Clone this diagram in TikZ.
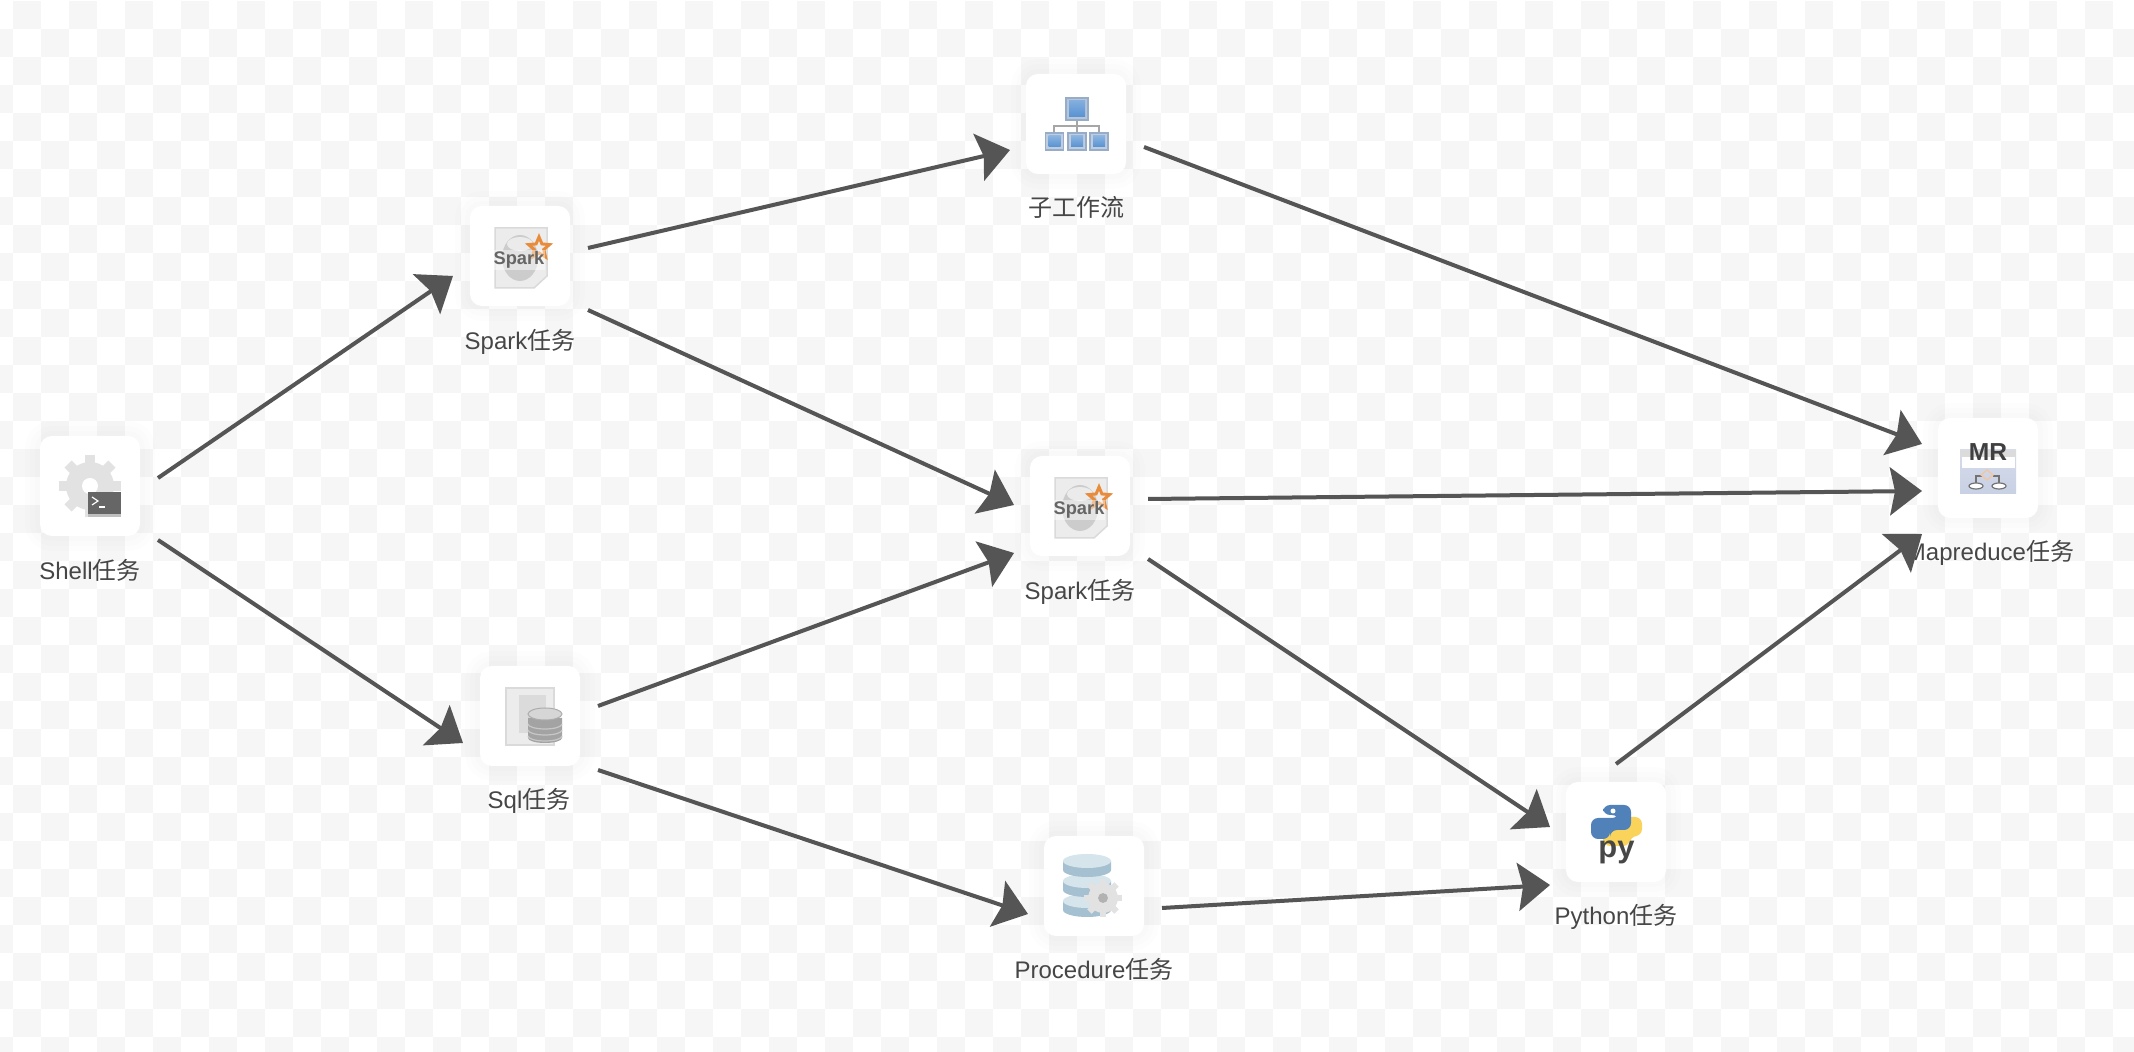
\documentclass[tikz,border=0pt]{standalone}
\usepackage{fontspec}
\setmainfont{Liberation Sans}
\newfontfamily\cjk{Noto Sans CJK SC}
\usepackage{tikz}
\usetikzlibrary{arrows.meta,shapes.geometric}
\definecolor{bgcell}{RGB}{246,246,246}
\definecolor{flowgray}{RGB}{85,85,85}
\definecolor{labelgray}{RGB}{70,70,70}
\definecolor{geargray}{RGB}{226,226,226}
\definecolor{pagegray}{RGB}{236,236,236}
\definecolor{pageedge}{RGB}{218,218,218}
\definecolor{sparkorange}{RGB}{232,140,60}
\definecolor{orgblue}{RGB}{88,146,210}
\definecolor{orgedge}{RGB}{150,172,200}
\definecolor{dbblue}{RGB}{165,192,208}
\definecolor{dbtop}{RGB}{214,228,236}
\definecolor{pyblue}{RGB}{80,130,185}
\definecolor{pyyellow}{RGB}{250,212,90}
\definecolor{mrpanel}{RGB}{200,208,228}
\newcommand{\zh}[1]{{\cjk #1}}
\tikzset{
  taskbox/.style={rounded corners=0.12cm,minimum size=1cm,inner sep=0pt,outer sep=0.18cm,fill=white,
    preaction={draw=black,draw opacity=0.008,line width=0.30cm},
    preaction={draw=black,draw opacity=0.008,line width=0.20cm},
    preaction={draw=black,draw opacity=0.008,line width=0.10cm}},
  tasklabel/.style={font=\fontsize{6.83}{8}\selectfont,text=labelgray,inner sep=0pt},
  flow/.style={-{Stealth[length=0.32cm,width=0.48cm,inset=0.05cm]},line width=0.04cm,draw=flowgray},
  pics/gearicon/.style={code={
    \fill[geargray] (0,0) circle (0.24);
    \foreach \a in {0,45,...,315} \fill[geargray,rotate=\a] (-0.05,0.2) rectangle (0.05,0.31);
    \fill[white] (0,0) circle (0.08);
  }},
  pics/shellicon/.style={code={
    \pic at (0,0) {gearicon};
    \fill[black!60] (-0.02,-0.06) rectangle (0.31,-0.31);
    \fill[black!25] (-0.02,-0.28) rectangle (0.31,-0.31);
    \draw[white,line width=0.012cm] (0.02,-0.11) -- (0.08,-0.15) -- (0.02,-0.19);
    \draw[white,line width=0.012cm] (0.09,-0.21) -- (0.15,-0.21);
  }},
  pics/sparkicon/.style={code={
    \fill[pagegray,draw=pageedge,line width=0.015cm] (-0.25,0.28) -- (0.27,0.28) -- (0.27,-0.20) -- (0.14,-0.32) -- (-0.25,-0.32) -- cycle;
    \fill[black!20] (0,-0.02) ellipse (0.18 and 0.23);
    \fill[black!8] (0,0.12) ellipse (0.13 and 0.07);
    \node[star,star points=5,star point ratio=2.2,draw=sparkorange,line width=0.03cm,inner sep=0pt,minimum size=0.22cm] (-star) at (0.19,0.08) {};
    \node[font=\fontsize{5.2}{6}\selectfont\bfseries,text=black!60,fill=white,fill opacity=0.45,text opacity=1,inner sep=0.3pt] (-word) at (-0.01,-0.04) {Spark};
  }},
  pics/flowicon/.style={code={
    \draw[black!35,line width=0.015cm] (0.01,0.04) -- (0.01,-0.09);
    \draw[black!35,line width=0.015cm] (-0.22,-0.09) -- (-0.22,-0.02) -- (0.23,-0.02) -- (0.23,-0.09);
    \fill[orgedge!70,draw=orgedge,line width=0.012cm] (-0.10,0.26) rectangle (0.12,0.04);
    \shade[top color=orgblue!75,middle color=orgblue!30,bottom color=orgblue] (-0.07,0.23) rectangle (0.09,0.07);
    \foreach \c in {-0.215,0.01,0.23} {
      \fill[orgedge!60,draw=orgedge,line width=0.012cm] (\c-0.09,-0.09) rectangle (\c+0.09,-0.26);
      \shade[top color=orgblue!70,bottom color=orgblue] (\c-0.06,-0.12) rectangle (\c+0.06,-0.23);
    }
  }},
  pics/sqlicon/.style={code={
    \fill[pagegray,draw=pageedge,line width=0.02cm] (-0.24,0.28) rectangle (0.24,-0.29);
    \fill[black!14] (-0.11,0.21) rectangle (0.16,-0.17);
    \fill[black!36] (-0.02,-0.02) -- (-0.02,-0.22) arc (180:360:0.17 and 0.05) -- (0.32,-0.02) -- cycle;
    \foreach \h in {-0.08,-0.14,-0.20} \draw[black!22,line width=0.012cm] (-0.02,\h) arc (180:360:0.17 and 0.05);
    \fill[black!16,draw=black!32,line width=0.01cm] (0.15,0.02) ellipse (0.17 and 0.06);
  }},
  pics/procicon/.style={code={
    \foreach \h in {-0.15,0.05,0.25} {
      \fill[dbblue] (-0.31,\h) -- (-0.31,\h-0.09) arc (180:360:0.24 and 0.07) -- (0.17,\h) -- cycle;
      \fill[dbtop] (-0.07,\h) ellipse (0.24 and 0.07);
    }
    \pic[shift={(0.09,-0.12)},scale=0.62] at (0,0) {gearicon};
    \fill[black!30] (0.09,-0.12) circle (0.05);
  }},
  pics/pyicon/.style={code={
    \fill[pyyellow,rounded corners=0.07cm] (0.14,-0.14) -- (-0.13,-0.14) -- (-0.13,0.02) -- (0.08,0.02) -- (0.08,0.15) -- (0.26,0.15) -- (0.26,-0.04) -- (0.14,-0.04) -- cycle;
    \fill[pyblue,rounded corners=0.07cm] (-0.13,0.27) -- (0.15,0.27) -- (0.15,0.02) -- (-0.06,0.02) -- (-0.06,-0.07) -- (-0.25,-0.07) -- (-0.25,0.14) -- (0.03,0.14) -- (0.03,0.17) -- (-0.13,0.17) -- cycle;
    \fill[white] (-0.03,0.21) circle (0.025);
    \node[font=\fontsize{8.8}{10}\selectfont\bfseries,text=black!72,inner sep=0pt,anchor=base] (-word) at (0.005,-0.26) {py};
  }},
  pics/mricon/.style={code={
    \shade[top color=mrpanel!75,bottom color=mrpanel] (-0.28,0.18) rectangle (0.28,-0.26);
    \fill[black!14] (-0.28,0.18) rectangle (0.28,0.11);
    \fill[white] (-0.26,0.11) rectangle (0.27,0.0);
    \draw[black!55,line width=0.012cm] (-0.12,-0.15) -- (-0.12,-0.08) -- (-0.06,-0.08);
    \draw[black!55,line width=0.012cm] (0.11,-0.15) -- (0.11,-0.08) -- (0.05,-0.08);
    \draw[sparkorange!50,line width=0.012cm] (-0.07,-0.07) -- (-0.01,-0.02) -- (0.05,-0.07) -- (-0.01,-0.12) -- cycle;
    \fill[white,draw=black!55,line width=0.012cm] (-0.12,-0.18) ellipse (0.07 and 0.03);
    \fill[white,draw=black!55,line width=0.012cm] (0.11,-0.18) ellipse (0.07 and 0.03);
    \node[font=\fontsize{7.0}{8}\selectfont\bfseries,text=black!75,inner sep=0pt] (-word) at (0,0.16) {MR};
  }}
}
\begin{document}
\begin{tikzpicture}
  \useasboundingbox (0,0) rectangle (21.34,-10.52);
  \fill[white] (0,0) rectangle (21.34,-10.52);
  \foreach \r in {0,...,37}
    \foreach \c in {-1,...,76} {
      \pgfmathtruncatemacro{\even}{mod(\r+\c+2,2)}
      \ifnum\even=0
        \fill[bgcell] ({0.127+0.28*\c},{-0.007-0.28*\r}) rectangle +(0.28,-0.28);
      \fi
    }
  \node[taskbox] (shell) at (0.90,-4.86) {};
  \node[taskbox] (sparka) at (5.20,-2.56) {};
  \node[taskbox] (subflow) at (10.76,-1.24) {};
  \node[taskbox] (sparkb) at (10.80,-5.06) {};
  \node[taskbox] (sql) at (5.30,-7.16) {};
  \node[taskbox] (proc) at (10.94,-8.86) {};
  \node[taskbox] (python) at (16.16,-8.32) {};
  \node[taskbox] (mr) at (19.88,-4.68) {};
  \pic (shellimg) at (shell) {shellicon};
  \pic (sparkaimg) at (sparka) {sparkicon};
  \pic (subflowimg) at (subflow) {flowicon};
  \pic (sparkbimg) at (sparkb) {sparkicon};
  \pic (sqlimg) at (sql) {sqlicon};
  \pic (procimg) at (proc) {procicon};
  \pic (pythonimg) at (python) {pyicon};
  \pic (mrimg) at (mr) {mricon};
  \node[tasklabel] (shelllabel) at (0.90,-5.70) {Shell\zh{任务}};
  \node[tasklabel] (sparkalabel) at (5.20,-3.415) {Spark\zh{任务}};
  \node[tasklabel] (subflowlabel) at (10.76,-2.075) {\zh{子工作流}};
  \node[tasklabel] (sparkblabel) at (10.80,-5.915) {Spark\zh{任务}};
  \node[tasklabel] (sqllabel) at (5.29,-8.01) {Sql\zh{任务}};
  \node[tasklabel] (proclabel) at (10.94,-9.695) {Procedure\zh{任务}};
  \node[tasklabel] (pythonlabel) at (16.16,-9.17) {Python\zh{任务}};
  \node[tasklabel] (mrlabel) at (19.90,-5.53) {Mapreduce\zh{任务}};
  \draw[flow] ([yshift=0.08cm]shell.east) -- ([xshift=0.01cm,yshift=-0.20cm]sparka.west);
  \draw[flow] ([yshift=-0.54cm]shell.east) -- ([xshift=0.01cm,yshift=-0.27cm]sql.west);
  \draw[flow] ([yshift=0.08cm]sparka.east) -- ([xshift=0.02cm,yshift=-0.26cm]subflow.west);
  \draw[flow] ([yshift=-0.54cm]sparka.east) -- ([xshift=0.02cm,yshift=0.01cm]sparkb.west);
  \draw[flow] ([yshift=0.10cm]sql.east) -- ([xshift=0.02cm,yshift=-0.47cm]sparkb.west);
  \draw[flow] ([yshift=-0.54cm]sql.east) -- ([xshift=0.02cm,yshift=-0.28cm]proc.west);
  \draw[flow] ([yshift=-0.22cm]proc.east) -- ([xshift=0.02cm,yshift=-0.53cm]python.west);
  \draw[flow] ([yshift=-0.53cm]sparkb.east) -- ([xshift=0.02cm,yshift=0.05cm]python.west);
  \draw[flow] ([yshift=0.07cm]sparkb.east) -- ([xshift=0.02cm,yshift=-0.23cm]mr.west);
  \draw[flow] ([yshift=-0.23cm]subflow.east) -- ([xshift=0.02cm,yshift=0.24cm]mr.west);
  \draw[flow] (python.north) -- ([xshift=0.02cm,yshift=-0.66cm]mr.west);
\end{tikzpicture}
\end{document}
